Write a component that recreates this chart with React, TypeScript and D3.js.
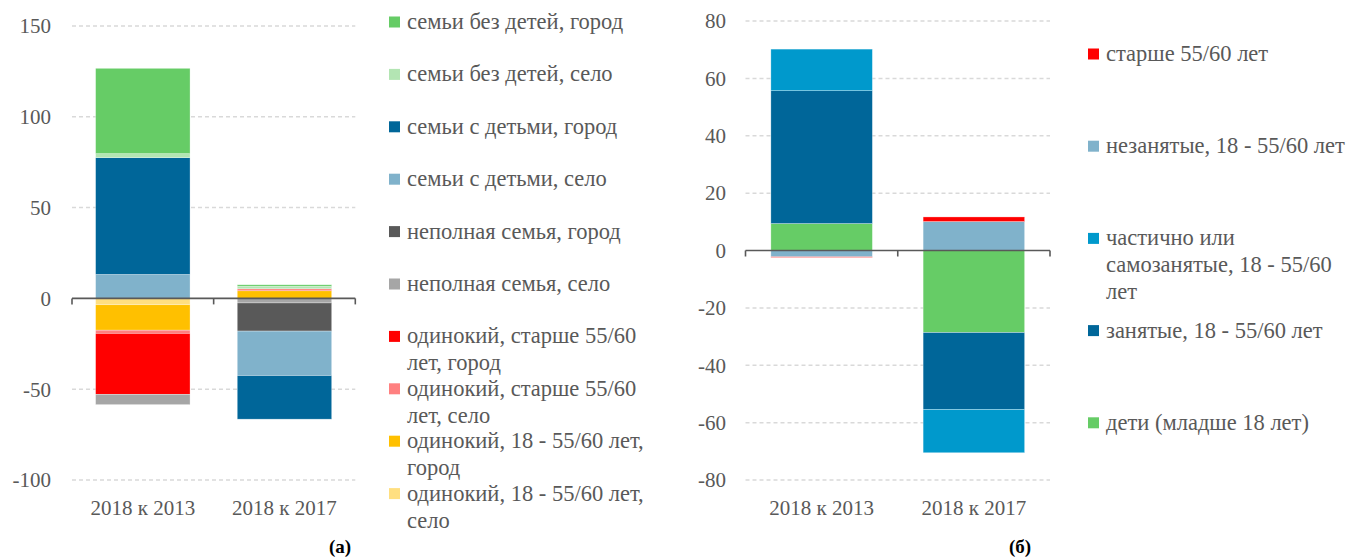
import * as d3 from "d3"

// (а) household types
const categories = ["2018 к 2013", "2018 к 2017"]

const leftKeys = [
  "одинокий, 18 - 55/60 лет, село",
  "одинокий, 18 - 55/60 лет, город",
  "одинокий, старше 55/60 лет, село",
  "одинокий, старше 55/60 лет, город",
  "неполная семья, село",
  "неполная семья, город",
  "семьи с детьми, село",
  "семьи с детьми, город",
  "семьи без детей, село",
  "семьи без детей, город",
]
const leftValues = [
  [-3.5, 0],
  [-14, 4.2],
  [-1.8, 1.1],
  [-33.5, 0],
  [-5.7, -2.5],
  [0, -15.5],
  [13.2, -24.5],
  [64.3, -24],
  [2.2, 1.4],
  [47, 0.8],
]
const leftColors = ["#ffdf80", "#ffc000", "#ff8080", "#ff0000", "#a6a6a6", "#595959", "#80b2cb", "#006699", "#b3e5b3", "#66cc66"]
const leftTicks = [150, 100, 50, 0, -50, -100]
const leftLegend = [
  ["семьи без детей, город"],
  ["семьи без детей, село"],
  ["семьи с детьми, город"],
  ["семьи с детьми, село"],
  ["неполная семья, город"],
  ["неполная семья, село"],
  ["одинокий, старше 55/60", "лет, город"],
  ["одинокий, старше 55/60", "лет, село"],
  ["одинокий, 18 - 55/60 лет,", "город"],
  ["одинокий, 18 - 55/60 лет,", "село"],
]

// (б) age / employment
const rightKeys = [
  "дети (младше 18 лет)",
  "занятые, 18 - 55/60 лет",
  "частично или самозанятые, 18 - 55/60 лет",
  "незанятые, 18 - 55/60 лет",
  "старше 55/60 лет",
]
const rightValues = [
  [9.4, -28.6],
  [46.3, -26.8],
  [14.5, -15.1],
  [-2.2, 10.1],
  [-0.2, 1.6],
]
const rightColors = ["#66cc66", "#006699", "#0099cc", "#80b2cb", "#ff0000"]
const rightTicks = [80, 60, 40, 20, 0, -20, -40, -60, -80]
const rightLegend = [
  ["старше 55/60 лет"],
  ["незанятые, 18 - 55/60 лет"],
  ["частично или", "самозанятые, 18 - 55/60", "лет"],
  ["занятые, 18 - 55/60 лет"],
  ["дети (младше 18 лет)"],
]

const font = '"Liberation Serif", "Times New Roman", "DejaVu Serif", serif'
const textColor = "#595959"
const fs = 21
const legendFs = 22.5

function Panel({ keys, values, colors, ticks, domain, xRange, yRange, labelX, legend, legendX, legendY, legendStep, tag, tagX }) {
  const rows = categories.map((c, i) => {
    const r = { cat: c }
    keys.forEach((k, j) => (r[k] = values[j][i]))
    return r
  })
  const series = d3.stack().keys(keys).offset(d3.stackOffsetDiverging)(rows)

  const x = d3.scaleBand().domain(categories).range(xRange).paddingInner(1 / 3).paddingOuter(1 / 6)
  const y = d3.scaleLinear().domain(domain).range(yRange)
  const step = x.step()
  const legendColors = colors.slice().reverse()

  return (
    <g style={{ fontFamily: font }} fill={textColor}>
      {ticks.filter((t) => t !== 0).map((t) => (
        <line key={t} x1={xRange[0]} x2={xRange[1]} y1={y(t)} y2={y(t)} stroke="#d9d9d9" strokeWidth={1.5} strokeDasharray="4,3" />
      ))}
      {ticks.map((t) => (
        <text key={t} x={labelX} y={y(t)} dy="0.35em" textAnchor="end" fontSize={fs}>{t}</text>
      ))}
      {series.map((s, j) => (
        <g key={s.key} fill={colors[j]}>
          {s.map((d) => (
            <rect key={d.data.cat} x={x(d.data.cat)} width={x.bandwidth()} y={y(Math.max(d[0], d[1]))}
              height={Math.abs(y(d[0]) - y(d[1]))} stroke="#fff" strokeOpacity={0.5} strokeWidth={0.6} />
          ))}
        </g>
      ))}
      <line x1={xRange[0]} x2={xRange[1]} y1={y(0)} y2={y(0)} stroke="#595959" strokeWidth={1.6} />
      {[0, 1, 2].map((i) => (
        <line key={i} x1={xRange[0] + i * step} x2={xRange[0] + i * step} y1={y(0)} y2={y(0) + 6} stroke="#595959" strokeWidth={1.6} />
      ))}
      {categories.map((c) => (
        <text key={c} x={x(c) + x.bandwidth() / 2} y={515} textAnchor="middle" fontSize={fs}>{c}</text>
      ))}
      {legend.map((lines, i) => (
        <g key={i} transform={`translate(${legendX},${legendY + i * legendStep})`}>
          <rect x={0} y={-5.5} width={11} height={11} fill={legendColors[i]} />
          <text x={18} y={7} fontSize={legendFs}>
            {lines.map((l, k) => (
              <tspan key={k} x={18} dy={k === 0 ? 0 : 27}>{l}</tspan>
            ))}
          </text>
        </g>
      ))}
      <text x={tagX} y={553} textAnchor="middle" fontSize={19} fontWeight="bold" fill="#000">{tag}</text>
    </g>
  )
}

export default function App() {
  return (
    <svg width={1354} height={558} style={{ position: "absolute", left: 0, top: 0, background: "#fff" }}>
      <Panel keys={leftKeys} values={leftValues} colors={leftColors} ticks={leftTicks} domain={[-100, 150]}
        xRange={[72, 355.3]} yRange={[480, 26]} labelX={51} legend={leftLegend}
        legendX={389} legendY={22} legendStep={52.4} tag="(а)" tagX={340} />
      <Panel keys={rightKeys} values={rightValues} colors={rightColors} ticks={rightTicks} domain={[-80, 80]}
        xRange={[745.5, 1050]} yRange={[480, 21]} labelX={726} legend={rightLegend}
        legendX={1088} legendY={54} legendStep={92.2} tag="(б)" tagX={1020} />
    </svg>
  )
}
